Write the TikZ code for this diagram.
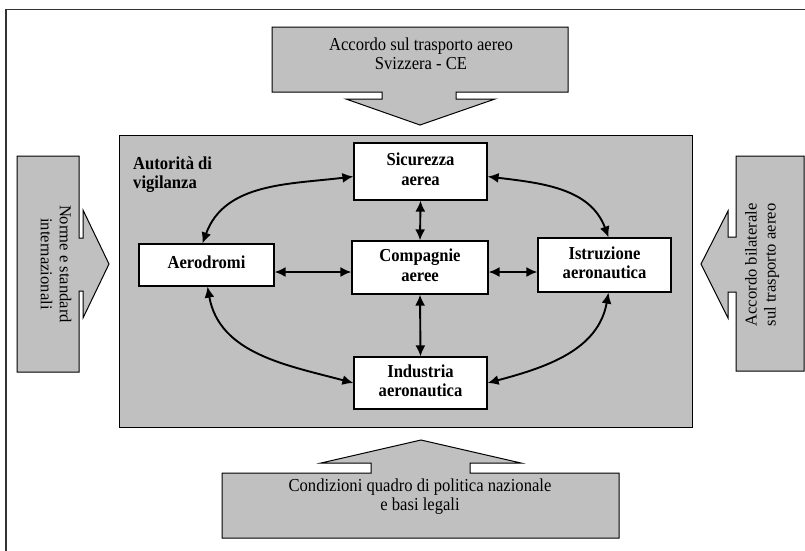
\documentclass[tikz,border=0pt]{standalone}
\usepackage{fontspec}
\usepackage{graphicx}
\setmainfont{Liberation Serif}
\usetikzlibrary{arrows.meta,calc}
\definecolor{panelgray}{HTML}{C0C0C0}
\definecolor{framegray}{HTML}{333333}
\newcommand\tallc[1]{\scalebox{1}[1.1]{\begin{tabular}{@{}c@{}}#1\end{tabular}}}
\newcommand\talll[1]{\scalebox{1}[1.1]{\begin{tabular}{@{}l@{}}#1\end{tabular}}}
\tikzset{
  unitbox/.style={draw=black, line width=1.2pt, fill=white, align=center,
    inner sep=0pt, font=\fontsize{16.6}{18}\selectfont\bfseries},
  grayshape/.style={draw=black, line width=1pt, fill=panelgray},
  plain/.style={align=center, inner sep=0pt, font=\fontsize{16.6}{17.5}\selectfont},
  plainrot/.style={align=center, inner sep=0pt, font=\fontsize{16.6}{19}\selectfont},
  link/.style={line width=1.9pt, {Latex[length=11pt,width=10pt]}-{Latex[length=11pt,width=10pt]}}
}
\begin{document}
\begin{tikzpicture}[x=1pt,y=-1pt]
\useasboundingbox (0,0) rectangle (805,550);
% frame
\draw[framegray, line width=1.8pt] (6,551) -- (6,9.5) -- (806,9.5);
% inner authority box
\node[grayshape, minimum width=573pt, minimum height=292pt, inner sep=0pt] (big) at (405.5,281) {};
\node[anchor=north west, inner sep=0pt, font=\fontsize{16.6}{18}\selectfont\bfseries] (aut) at (133,155) {\talll{Autorità di\\vigilanza}};
% top arrow
\draw[grayshape] (272,27) -- (568,27) -- (568,92) -- (456,92) -- (456,99) -- (495,99) -- (420,125) -- (346,99) -- (382,99) -- (382,92) -- (272,92) -- cycle;
\node[plain] (toptxt) at (421,56) {\tallc{Accordo sul trasporto aereo\\Svizzera - CE}};
% left arrow
\draw[grayshape] (17,156) -- (79,156) -- (79,238) -- (83,238) -- (83,210) -- (109,264) -- (83,318) -- (83,291) -- (79,291) -- (79,372) -- (17,372) -- cycle;
\node[plainrot, rotate=-90] (lefttxt) at (56,264) {Norme e standard\\internazionali};
% right arrow
\draw[grayshape] (804,156) -- (736,156) -- (736,237) -- (728,237) -- (728,211) -- (701,264) -- (728,318) -- (728,292) -- (736,292) -- (736,371) -- (804,371) -- cycle;
\node[plainrot, rotate=90] (righttxt) at (762,265) {Accordo bilaterale\\sul trasporto aereo};
% bottom arrow
\draw[grayshape] (222,538) -- (619,538) -- (619,473) -- (470,473) -- (470,463) -- (521,463) -- (421,440) -- (321,463) -- (371,463) -- (371,473) -- (222,473) -- cycle;
\node[plain] (bottxt) at (420,497) {\tallc{Condizioni quadro di politica nazionale\\e basi legali}};
% unit boxes
\node[unitbox, minimum width=133pt, minimum height=57pt] (sic) at (420.5,171.5) {\tallc{Sicurezza\\aerea}};
\node[unitbox, minimum width=135pt, minimum height=42pt] (aer) at (206.5,265) {\tallc{Aerodromi}};
\node[unitbox, minimum width=136pt, minimum height=53pt] (com) at (420,267.5) {\tallc{Compagnie\\aeree}};
\node[unitbox, minimum width=133pt, minimum height=54pt] (ist) at (604.5,265) {\tallc{Istruzione\\aeronautica}};
\node[unitbox, minimum width=133pt, minimum height=52pt] (ind) at (420.5,383) {\tallc{Industria\\aeronautica}};
% connectors
\draw[link] (sic.south) -- (com.north);
\draw[link] (com.south) -- (ind.north);
\draw[link] ([yshift=-7pt]aer.east) -- ([yshift=-4.5pt]com.west);
\draw[link] ([yshift=-4.5pt]com.east) -- ([yshift=-7pt]ist.west);
\draw[link] ([yshift=-5pt]sic.west) to[out=187,in=70] ([xshift=-4pt]aer.north);
\draw[link] ([yshift=-5pt]sic.east) to[out=-7,in=110] ([xshift=4pt]ist.north);
\draw[link] ([xshift=1pt]aer.south) to[out=-80,in=165] (ind.west);
\draw[link] ([xshift=4pt]ist.south) to[out=-100,in=15] (ind.east);
\end{tikzpicture}
\end{document}
